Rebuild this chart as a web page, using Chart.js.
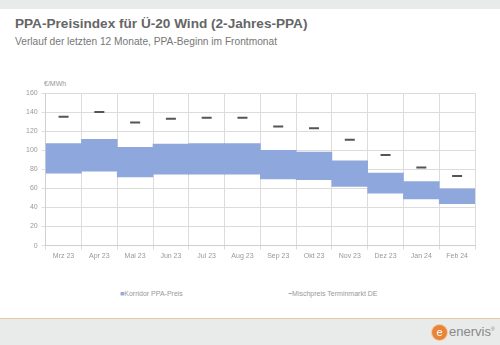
<!DOCTYPE html>
<html>
<head>
<meta charset="utf-8">
<script src="https://cdn.jsdelivr.net/npm/chart.js@4"></script>
<style>
  body { margin: 0; width: 500px; height: 345px; background: #fff; font-family: "Liberation Sans", Arial, sans-serif; position: relative; overflow: hidden; }
  .topbar { position: absolute; left: 0; top: 0; width: 500px; height: 9px; background: #e8ebea; }
  h1 { position: absolute; left: 15px; top: 16px; margin: 0; font-size: 13.6px; font-weight: bold; color: #666; white-space: nowrap; }
  .sub { position: absolute; left: 15px; top: 36px; font-size: 10.2px; color: #777; white-space: nowrap; }
  #wrap { position: absolute; left: 0; top: 73px; width: 500px; height: 200px; }
  .unit { position: absolute; left: 44px; top: 80px; font-size: 7px; color: #999; }
  .legend { position: absolute; top: 290px; font-size: 7px; color: #999; white-space: nowrap; }
  .footer { position: absolute; left: 0; top: 318px; width: 500px; height: 27px; background: #e8ebea; border-top: 1px solid #e8c9a0; }
  .logo { position: absolute; left: 432px; top: 324px; font-size: 13px; color: #888; }
  .logo .dot { display: inline-block; width: 15px; height: 15px; border-radius: 50%; background: #e8843a; color: #fff; font-size: 11px; text-align: center; line-height: 15px; vertical-align: middle; margin-right: 2px; box-shadow: 0 0 0 1px #f3c9a4; }
</style>
</head>
<body>
<div class="topbar"></div>
<h1>PPA-Preisindex für Ü-20 Wind (2-Jahres-PPA)</h1>
<div class="sub">Verlauf der letzten 12 Monate, PPA-Beginn im Frontmonat</div>
<div class="unit">€/MWh</div>
<div id="wrap"><canvas id="chart"></canvas></div>
<div class="legend" style="left:120px"><span style="color:#8ea7dc">■</span>Korridor PPA-Preis</div>
<div class="legend" style="left:288px"><span style="color:#555">−</span>Mischpreis Terminmarkt DE</div>
<div class="footer"></div>
<div class="logo"><span class="dot">e</span>enervis<sup style="font-size:5px">®</sup></div>
<script>
// Monate und Werte (€/MWh)
const months = ['Mrz 23', 'Apr 23', 'Mai 23', 'Jun 23', 'Jul 23', 'Aug 23', 'Sep 23', 'Okt 23', 'Nov 23', 'Dez 23', 'Jan 24', 'Feb 24'];
const corridorLow = [76, 78, 72, 75, 75, 75, 70, 69, 62, 55, 49, 44];
const corridorHigh = [107, 111.5, 103, 106.5, 107, 107, 100, 98, 89, 76, 67, 59.5];
const terminPrice = [135, 140, 129, 133, 134, 134, 125, 123, 111, 95, 82, 73];
const yTicks = [0, 20, 40, 60, 80, 100, 120, 140, 160];

const ctx = document.getElementById('chart').getContext('2d');
const chart = new Chart(ctx, {
    type: 'bar',
    data: {
        labels: months,
        datasets: [{
            type: 'line',
            label: 'Mischpreis Terminmarkt DE',
            data: terminPrice,
            showLine: false,
            pointStyle: 'line',
            pointRadius: 5,
            pointBorderWidth: 2,
            borderColor: '#555',
            backgroundColor: '#555',
            order: 0
        }, {
            label: 'Korridor PPA-Preis',
            data: corridorLow.map((lo, i) => [lo, corridorHigh[i]]),
            backgroundColor: '#8ea7dc',
            barPercentage: 1,
            categoryPercentage: 1,
            order: 1
        }]
    },
    options: {
        responsive: true,
        maintainAspectRatio: false,
        animation: false,
        layout: { padding: { left: 22, right: 25, top: 20, bottom: 11 } },
        plugins: {
            legend: { display: false },
            tooltip: { enabled: false }
        },
        scales: {
            x: {
                grid: { color: '#dcdcdc', offset: true, drawTicks: true, tickLength: 4 },
                border: { color: '#cfcfcf' },
                ticks: { color: '#999', font: { size: 7, family: 'Liberation Sans' }, padding: 2 }
            },
            y: {
                min: yTicks[0],
                max: yTicks[yTicks.length - 1],
                afterBuildTicks: axis => { axis.ticks = yTicks.map(v => ({ value: v })); },
                grid: { color: '#dcdcdc', tickLength: 4 },
                border: { color: '#cfcfcf' },
                ticks: { color: '#999', font: { size: 7, family: 'Liberation Sans' }, padding: 4 }
            }
        }
    }
});
</script>
</body>
</html>
